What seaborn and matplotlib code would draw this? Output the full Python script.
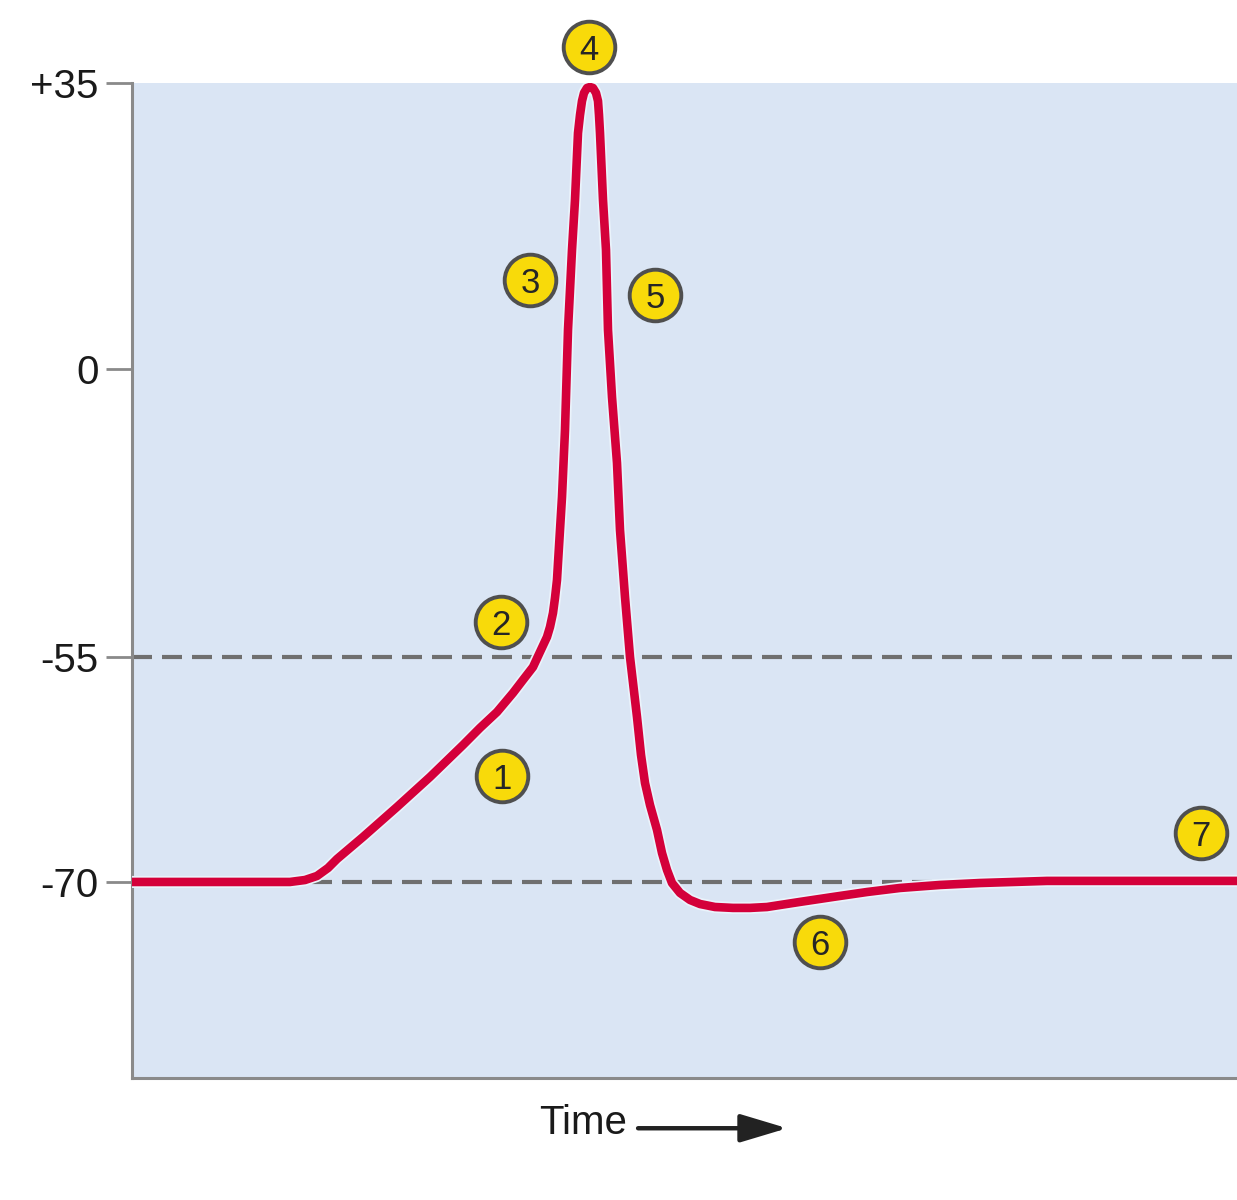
import numpy as np
import pandas as pd
import matplotlib
matplotlib.use("Agg")
import matplotlib.pyplot as plt
import matplotlib.patheffects as pe
import seaborn as sns

# ---------------- data (membrane potential, mV, vs. time, arbitrary units) -------------
time_pts = [0.00, 1.58, 1.73, 1.85, 1.96, 2.05, 2.31, 2.65, 2.98, 3.31, 3.48, 3.65,
            3.81, 3.91, 4.01, 4.08, 4.15, 4.18, 4.21, 4.23, 4.25, 4.26, 4.30, 4.33,
            4.36, 4.40, 4.43, 4.46, 4.48, 4.50, 4.52, 4.55, 4.58, 4.61, 4.64, 4.66,
            4.67, 4.68, 4.71, 4.74, 4.76, 4.80, 4.85, 4.88, 4.93, 4.98, 5.05, 5.09,
            5.13, 5.18, 5.25, 5.30, 5.35, 5.40, 5.48, 5.58, 5.68, 5.83, 6.01, 6.18,
            6.35, 6.68, 7.01, 7.35, 7.68, 8.08, 8.48, 9.15, 11.05]
voltage = [-70.0, -70.0, -69.87, -69.6, -69.07, -68.47, -67.0, -65.0, -63.0, -60.87,
           -59.73, -58.67, -57.4, -56.53, -55.67, -54.04, -51.18, -49.27, -46.6, -43.73,
           -40.29, -37.05, -24.44, -11.65, 4.77, 14.56, 20.68, 28.88, 31.08, 32.80,
           33.78, 34.39, 34.51, 34.39, 33.78, 32.80, 31.08, 28.88, 20.68, 14.56,
           4.77, -5.35, -17.95, -30.75, -43.54, -55.0, -59.0, -61.53, -63.4, -64.87,
           -66.53, -68.07, -69.2, -70.07, -70.73, -71.2, -71.47, -71.67, -71.73, -71.73,
           -71.67, -71.33, -71.0, -70.67, -70.4, -70.2, -70.07, -69.93, -69.93]

threshold_levels = [-55, -70]
tick_values = [-70, -55, 0, 35]
tick_labels = ["-70", "-55", "0", "+35"]

marker_t = [3.70, 3.69, 3.98, 4.57, 5.23, 6.88, 10.69]
marker_v = [-62.93, -48.32, 10.89, 39.41, 9.06, -74.0, -66.73]
marker_labels = ["1", "2", "3", "4", "5", "6", "7"]

x_label = "Time"

# ---------------- schematic (non-linear) voltage axis -------------
knot_v = np.array([-1000.0, -70.0, -55.0, 0.0, 35.0, 1000.0])
knot_p = np.array([-930.0 * 15, 0.0, 225.0, 513.0, 799.0, 799.0 + 965.0 * 286.0 / 35.0])


def fwd(v):
    return np.interp(v, knot_v, knot_p)


def inv(p):
    return np.interp(p, knot_p, knot_v)


sns.set_style("white")
plt.rcParams["font.family"] = ["Liberation Sans", "DejaVu Sans"]

fig = plt.figure(figsize=(12.37, 12.0), dpi=100)
ax = fig.add_axes([132 / 1237, 122 / 1200, 1105 / 1237, 995 / 1200])
ax.set_facecolor("#DAE5F4")
ax.set_yscale("function", functions=(fwd, inv))

df = pd.DataFrame({"t": time_pts, "v": voltage})
mk = pd.DataFrame({"t": marker_t, "v": marker_v, "lab": marker_labels})

# dashed reference levels
for lvl in threshold_levels:
    ax.axhline(lvl, color="#6f6f6f", lw=3.0, dashes=(4.8, 2.4), zorder=2)

# action potential trace
sns.lineplot(data=df, x="t", y="v", ax=ax, color="#D4003A", lw=6.2, sort=False,
             estimator=None, zorder=3, solid_capstyle="round", solid_joinstyle="round",
             path_effects=[pe.Stroke(linewidth=8.7, foreground="#EAF3FB"), pe.Normal()])

# numbered phase markers
sns.scatterplot(data=mk, x="t", y="v", ax=ax, s=1380, color="#F8DA0A",
                edgecolor="#4f4f4f", linewidth=2.8, zorder=5, clip_on=False, legend=False)
for t, v, lab in zip(marker_t, marker_v, marker_labels):
    ax.text(t, v, lab, ha="center", va="center_baseline", fontsize=25, color="#262626",
            zorder=6, clip_on=False)

ax.set_xlim(0, 11.05)
ax.set_ylim(-83.07, 35)
ax.set_xticks([])
ax.set_yticks(tick_values)
ax.set_yticklabels(tick_labels)
ax.tick_params(axis="y", direction="out", length=19, width=2.0, color="#8a8a8a",
               labelsize=29, labelcolor="#1a1a1a", pad=5, left=True)
ax.set_xlabel("")
ax.set_ylabel("")
for side in ["top", "right"]:
    ax.spines[side].set_visible(False)
for side in ["left", "bottom"]:
    ax.spines[side].set_color("#8a8a8a")
    ax.spines[side].set_linewidth(2.2)

# Time label with arrow
ax.text(0.408, -0.045, x_label, transform=ax.transAxes, ha="center", va="center",
        fontsize=29, color="#1a1a1a")
ax.annotate("", xy=(0.593, -0.0505), xytext=(0.458, -0.0505), xycoords="axes fraction",
            textcoords="axes fraction",
            arrowprops=dict(arrowstyle="-|>,head_length=0.4,head_width=0.12",
                            mutation_scale=72, lw=3.2, color="#222222",
                            shrinkA=0, shrinkB=0))

fig.savefig("out.png", dpi=100)
